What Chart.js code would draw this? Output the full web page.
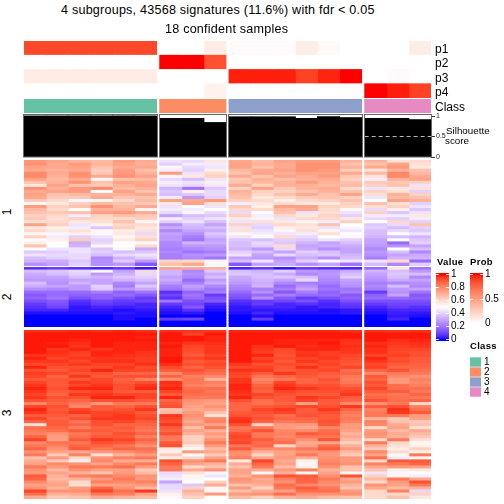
<!DOCTYPE html>
<html>
<head>
<meta charset="utf-8">
<title>Consensus heatmap</title>
<script src="https://cdn.jsdelivr.net/npm/chart.js@4"></script>
<style>
  html, body { margin: 0; padding: 0; background: #fff; }
  body { position: relative; width: 504px; height: 504px; overflow: hidden; font-family: "Liberation Sans", sans-serif; color: #000; }
  canvas { position: absolute; }
  .label { position: absolute; white-space: nowrap; line-height: 1; }
</style>
</head>
<body>
<script>
const SAMPLE_GROUPS = [0, 0, 0, 0, 0, 0, 1, 1, 1, 2, 2, 2, 2, 2, 2, 3, 3, 3];
const CLASS_COLORS = ['#66C2A5', '#FC8D62', '#8DA0CB', '#E78AC3'];
const CLASS_LABELS = ['1', '2', '3', '4'];

const PROB_NAMES = ['p1', 'p2', 'p3', 'p4'];
const PROB_P1 = [0.87, 0.87, 0.87, 0.87, 0.87, 0.87, 0, 0, 0.1, 0.02, 0.02, 0.02, 0.09, 0.03, 0, 0, 0, 0.1];
const PROB_P2 = [0, 0, 0, 0, 0, 0, 1, 1, 0.84, 0, 0, 0, 0, 0, 0, 0, 0, 0];
const PROB_P3 = [0.1, 0.1, 0.1, 0.1, 0.1, 0.1, 0, 0, 0, 0.97, 0.97, 0.97, 0.89, 0.96, 1, 0, 0.02, 0];
const PROB_P4 = [0, 0, 0, 0, 0, 0, 0, 0, 0.07, 0, 0, 0, 0, 0, 0, 1, 0.97, 0.89];

const SILHOUETTE = [1, 1, 1, 1, 1, 1, 0.94, 0.94, 0.84, 0.98, 0.98, 0.98, 0.94, 0.98, 0.96, 0.94, 0.94, 0.91];
const SILHOUETTE_TICKS = [0, 0.5, 1];
const VALUE_TICKS = [0, 0.2, 0.4, 0.6, 0.8, 1];
const PROB_TICKS = [0, 0.5, 1];

// expression per signature row, percent of the value scale, one column per sample
const CLUSTER_1_ROWS = [
  [77,74,70,68,76,72,44,42,57,73,68,74,76,76,70,70,58,60],
  [78,72,76,70,74,70,40,46,46,74,70,72,78,78,66,66,74,58],
  [74,73,74,66,72,73,52,42,44,74,66,72,78,78,70,72,76,56],
  [72,70,72,63,75,66,46,40,54,68,72,74,78,76,63,57,70,66],
  [80,72,78,64,76,70,76,44,60,66,74,70,74,74,72,68,80,68],
  [80,70,78,72,78,74,48,56,62,72,66,74,72,76,65,58,80,72],
  [74,68,72,52,66,68,42,36,44,64,70,66,70,72,62,46,70,74],
  [66,70,78,66,74,72,46,44,54,66,68,70,76,70,66,64,64,62],
  [56,74,66,64,70,74,44,42,45,72,62,70,70,68,68,62,66,44],
  [78,70,76,80,68,70,34,20,38,62,74,64,70,72,60,44,56,58],
  [72,74,76,50,74,66,38,54,42,70,62,62,66,70,66,62,58,40],
  [74,66,68,70,70,72,36,38,42,68,60,66,72,66,74,58,70,62],
  [72,64,64,72,66,66,46,28,40,66,56,60,64,66,62,44,68,66],
  [64,60,48,52,60,68,74,72,76,62,60,54,60,62,66,50,74,70],
  [52,56,62,68,66,64,56,74,58,46,56,60,56,56,62,66,58,40],
  [76,62,66,78,68,72,44,50,44,64,54,74,74,62,60,58,62,44],
  [68,60,50,70,70,52,46,46,50,60,60,68,72,60,52,42,54,38],
  [66,64,66,74,76,72,42,48,42,42,50,66,44,58,44,62,38,44],
  [62,60,46,62,66,64,30,36,38,62,46,60,56,62,40,46,46,56],
  [64,58,62,60,60,62,46,40,44,56,48,44,60,60,56,42,40,46],
  [58,60,56,58,66,52,40,44,36,44,58,56,52,46,62,50,60,40],
  [74,62,44,54,60,60,26,36,30,62,42,60,58,66,50,38,42,66],
  [56,54,46,38,62,56,32,34,36,44,40,54,56,44,48,40,36,40],
  [60,56,58,52,55,58,24,30,32,58,44,48,58,52,44,36,42,38],
  [52,48,54,48,56,42,30,26,38,52,46,44,46,58,50,36,50,44],
  [62,46,40,44,52,58,28,22,34,44,50,60,42,50,52,34,36,34],
  [50,54,64,40,56,62,28,20,30,38,36,40,38,44,40,30,50,38],
  [54,50,32,42,50,50,24,34,32,36,42,38,34,30,36,30,18,40],
  [66,50,34,52,50,60,24,28,28,36,40,60,30,32,32,28,26,30],
  [50,44,44,38,48,32,22,24,26,34,28,42,32,26,30,24,50,36],
  [38,40,44,40,36,38,24,20,22,40,36,30,40,36,30,28,36,24],
  [44,42,42,36,42,44,22,26,28,44,30,42,36,38,34,26,30,32],
  [36,40,42,24,34,40,22,24,20,30,28,26,32,26,36,22,34,34],
  [34,32,38,26,38,28,62,60,52,36,44,30,40,52,44,44,60,18],
  [26,30,40,26,28,14,66,72,48,14,30,32,26,30,20,36,24,40]
];

const CLUSTER_2_ROWS = [
  [6,8,6,4,8,2,74,72,70,4,8,2,8,6,4,18,56,20],
  [36,38,42,48,30,60,34,24,38,36,34,40,28,26,32,34,36,28],
  [32,36,40,28,34,42,34,26,32,38,36,32,24,28,36,30,38,36],
  [30,30,36,34,38,40,30,24,36,32,36,38,36,26,40,28,36,24],
  [28,28,30,30,34,36,32,18,28,30,34,30,42,24,30,26,32,30],
  [36,26,34,30,24,30,28,22,32,28,32,24,22,22,28,22,24,26],
  [32,30,28,40,22,38,22,30,24,24,34,18,26,18,26,24,36,24],
  [26,24,28,38,28,32,20,26,20,22,22,22,30,20,20,22,28,30],
  [18,18,18,22,16,20,6,16,22,18,26,14,22,16,22,8,26,20],
  [14,18,16,16,18,14,10,20,8,14,18,22,18,18,14,16,30,14],
  [16,20,12,16,12,8,6,18,12,12,26,14,8,12,16,18,18,16],
  [12,14,6,10,8,10,20,12,14,6,8,10,12,6,12,12,12,12],
  [8,12,4,8,6,4,8,10,4,4,8,4,6,4,8,8,10,10],
  [6,10,2,4,3,4,4,14,2,2,4,4,2,4,6,4,8,6],
  [4,4,2,2,1,2,2,6,1,2,2,2,2,1,2,2,4,4],
  [1,1,1,1,2,1,1,2,0,1,4,1,1,1,2,1,3,2],
  [0,0,0,0,1,1,0,0,0,0,1,0,0,0,0,0,2,1],
  [0,0,0,0,1,0,8,10,0,0,8,0,0,0,0,0,4,0],
  [0,0,0,0,0,0,0,0,0,0,0,0,0,0,0,0,0,0],
  [0,0,0,0,0,0,0,0,0,0,0,0,0,0,0,0,0,0]
];

const CLUSTER_3_ROWS = [
  [97,97,98,97,98,97,97,96,96,98,98,98,98,98,97,97,96,97],
  [99,99,99,99,99,99,99,94,99,99,99,99,99,99,99,99,99,99],
  [99,99,99,99,99,98,99,99,98,99,99,99,99,99,99,99,99,99],
  [99,99,98,99,99,99,99,99,98,99,99,98,98,98,97,99,97,98],
  [99,98,97,99,98,98,98,96,97,99,99,98,98,99,96,97,96,97],
  [99,99,96,99,98,98,99,94,96,99,97,99,97,98,97,98,95,96],
  [99,96,98,96,98,98,98,93,96,99,96,93,98,98,96,97,94,94],
  [99,97,95,98,98,96,98,92,96,99,95,93,96,95,96,97,93,92],
  [96,96,94,98,97,96,98,90,94,99,98,91,97,95,94,94,95,92],
  [98,94,96,96,96,95,99,94,96,99,94,93,94,96,93,98,92,90],
  [96,96,93,97,97,95,99,90,92,99,96,90,96,93,92,96,93,90],
  [93,94,96,94,94,97,97,92,94,96,92,93,92,95,90,93,90,89],
  [98,92,92,93,96,92,93,88,92,93,94,91,97,92,94,95,88,88],
  [92,90,94,98,94,94,90,92,88,97,96,90,92,94,86,88,92,86],
  [95,94,91,92,88,88,80,88,86,94,90,96,92,90,88,80,84,84],
  [94,88,96,90,92,92,88,82,80,93,85,88,90,88,84,90,80,78],
  [90,91,90,94,88,82,78,84,70,96,80,84,88,92,82,88,76,82],
  [94,90,96,94,90,92,97,84,82,96,84,94,88,90,84,92,76,80],
  [96,90,94,96,92,96,96,82,80,98,88,96,92,92,88,90,86,82],
  [98,92,98,98,92,98,98,86,86,98,90,98,96,94,92,94,86,86],
  [96,90,92,94,90,90,94,88,84,97,88,94,92,92,94,90,90,84],
  [94,88,96,96,94,94,90,86,86,96,94,92,90,90,96,86,84,88],
  [96,92,92,98,98,94,98,84,84,98,92,90,96,94,90,88,86,84],
  [92,90,88,92,92,90,88,78,76,92,86,90,94,90,88,92,86,88],
  [80,88,84,76,84,84,90,76,74,88,86,88,74,90,80,78,84,60],
  [94,92,80,90,88,92,92,74,78,88,90,92,94,92,96,90,92,82],
  [98,90,94,90,92,96,66,72,74,88,94,96,90,96,88,82,97,86],
  [96,92,96,94,94,90,68,76,66,90,92,94,90,92,84,84,96,90],
  [90,90,88,94,96,92,96,78,58,92,90,86,92,90,82,84,84,76],
  [94,88,92,96,96,94,94,76,80,96,92,88,88,90,84,70,64,74],
  [88,90,84,92,94,90,92,72,82,97,88,84,86,92,82,82,66,64],
  [58,90,88,92,88,88,96,76,74,92,62,76,76,90,76,80,72,66],
  [86,88,82,88,90,86,90,66,84,84,84,76,72,80,76,60,74,58],
  [84,86,90,90,88,84,88,74,70,86,92,80,80,86,74,76,68,72],
  [82,78,84,88,92,88,92,70,76,92,84,82,90,88,70,78,72,68],
  [88,76,86,90,90,82,84,62,72,94,84,80,84,84,72,76,70,64],
  [94,74,90,96,94,88,84,62,78,92,90,84,78,92,68,60,84,58],
  [80,86,84,92,90,84,90,64,84,94,86,86,72,72,62,84,60,52],
  [84,82,88,88,84,78,92,56,76,84,88,60,74,86,70,70,58,54],
  [88,78,90,84,88,86,56,52,68,90,80,80,84,90,76,64,54,62],
  [78,74,72,76,78,82,54,76,72,80,70,74,78,78,68,80,60,54],
  [84,64,82,58,70,76,64,52,64,78,62,74,84,76,64,74,52,84],
  [66,76,60,78,82,84,54,60,74,82,72,76,70,78,76,86,46,52],
  [72,64,54,80,72,70,92,78,84,56,94,72,54,80,76,60,90,90],
  [74,80,78,74,80,84,88,74,70,72,88,74,52,82,78,82,84,88],
  [84,76,84,84,86,76,84,60,66,66,84,68,54,78,66,72,76,74],
  [78,68,78,74,74,64,84,72,78,74,72,76,82,70,66,66,54,56],
  [76,74,70,66,76,68,42,58,48,74,52,70,52,74,52,44,48,50],
  [90,70,82,84,80,78,44,52,44,70,78,92,90,78,92,62,52,46],
  [88,68,70,76,84,76,46,52,50,78,72,82,88,84,72,68,84,72],
  [80,72,60,82,80,82,30,50,62,76,74,78,88,80,76,60,76,92],
  [74,74,58,74,74,76,42,38,72,66,70,86,80,78,70,78,74,84],
  [78,70,76,88,78,68,42,62,52,76,62,84,90,84,66,72,68,70],
  [94,78,78,94,86,96,44,70,52,66,72,74,86,86,76,60,82,42],
  [86,70,72,84,82,74,54,66,76,76,78,86,78,78,78,60,60,62],
  [72,64,66,72,70,68,52,62,50,68,62,70,72,68,66,60,66,56]
];

const HEAT_LEFT = 24;
const HEAT_WIDTH = 407;
const GROUP_GAP = 0.136; // gap between sample groups, in sample widths
const X_MAX = SAMPLE_GROUPS.length + GROUP_GAP * 3;

Chart.defaults.animation = false;
Chart.defaults.responsive = false;
Chart.defaults.font.family = '"Liberation Sans", sans-serif';
Chart.defaults.plugins.legend.display = false;
Chart.defaults.plugins.tooltip.enabled = false;

// CIELAB ramps, same look as the colour mapping in the source figure
function labToRgb(L, a, b) {
  const finv = (t) => (t > 6 / 29 ? t * t * t : 3 * (6 / 29) * (6 / 29) * (t - 4 / 29));
  const fy = (L + 16) / 116;
  const X = 0.95047 * finv(fy + a / 500);
  const Y = finv(fy);
  const Z = 1.08883 * finv(fy - b / 200);
  const lin = [
    3.2406 * X - 1.5372 * Y - 0.4986 * Z,
    -0.9689 * X + 1.8758 * Y + 0.0415 * Z,
    0.0557 * X - 0.204 * Y + 1.057 * Z
  ];
  const out = lin.map((c) => {
    const v = Math.min(1, Math.max(0, c));
    return Math.round(255 * (v <= 0.0031308 ? 12.92 * v : 1.055 * Math.pow(v, 1 / 2.4) - 0.055));
  });
  return `rgb(${out[0]},${out[1]},${out[2]})`;
}

const LAB_RED = [53.24, 80.09, 67.2];
const LAB_BLUE = [32.3, 79.19, -107.86];
const LAB_WHITE = [100, 0, 0];

function mixLab(from, to, t) {
  return labToRgb(from[0] + (to[0] - from[0]) * t, from[1] + (to[1] - from[1]) * t, from[2] + (to[2] - from[2]) * t);
}

function valueColor(v) {
  const c = Math.min(1, Math.max(0, v));
  return c < 0.5 ? mixLab(LAB_BLUE, LAB_WHITE, c * 2) : mixLab(LAB_WHITE, LAB_RED, (c - 0.5) * 2);
}

function probColor(v) {
  return mixLab(LAB_WHITE, LAB_RED, Math.min(1, Math.max(0, v)));
}

function sampleX(i) {
  return i + 0.5 + SAMPLE_GROUPS[i] * GROUP_GAP;
}

function groupStart(g) {
  return SAMPLE_GROUPS.indexOf(g) + g * GROUP_GAP;
}

function groupEnd(g) {
  return SAMPLE_GROUPS.lastIndexOf(g) + 1 + g * GROUP_GAP;
}

function addCanvas(left, top, width, height) {
  const canvas = document.createElement('canvas');
  canvas.width = width;
  canvas.height = height;
  canvas.style.left = left + 'px';
  canvas.style.top = top + 'px';
  canvas.style.width = width + 'px';
  canvas.style.height = height + 'px';
  document.body.appendChild(canvas);
  return canvas;
}

function addLabel(text, x, y, size, extra) {
  const el = document.createElement('div');
  el.className = 'label';
  el.textContent = text;
  el.style.left = x + 'px';
  el.style.top = y + 'px';
  el.style.fontSize = size + 'px';
  Object.assign(el.style, extra || {});
  document.body.appendChild(el);
  return el;
}

const hiddenX = { type: 'linear', display: false, offset: false, min: 0, max: X_MAX, grid: { display: false } };

// one chart per horizontal block of rows, all sharing the sample x scale
function rowBlockChart(top, height, rowCount, colorAt) {
  const datasets = SAMPLE_GROUPS.map((_, s) => {
    const rows = Array.from({ length: rowCount }, (_, r) => r);
    return {
      data: rows.map((r) => ({ x: sampleX(s), y: [r, r + 1] })),
      backgroundColor: rows.map((r) => colorAt(r, s)),
      borderWidth: 0,
      barPercentage: 1,
      categoryPercentage: 1,
      inflateAmount: 0.4,
      grouped: false
    };
  });
  return new Chart(addCanvas(HEAT_LEFT, top, HEAT_WIDTH, height), {
    type: 'bar',
    data: { datasets },
    options: {
      layout: { padding: 0 },
      scales: {
        x: hiddenX,
        y: { type: 'linear', display: false, reverse: true, min: 0, max: rowCount, grid: { display: false } }
      }
    }
  });
}

const PROB_ROWS = [PROB_P1, PROB_P2, PROB_P3, PROB_P4];
rowBlockChart(41, 57, PROB_ROWS.length, (r, s) => probColor(PROB_ROWS[r][s]));
rowBlockChart(99, 14, 1, (r, s) => CLASS_COLORS[SAMPLE_GROUPS[s]]);
rowBlockChart(160, 106, CLUSTER_1_ROWS.length, (r, s) => valueColor(CLUSTER_1_ROWS[r][s] / 100));
rowBlockChart(267, 60, CLUSTER_2_ROWS.length, (r, s) => valueColor(CLUSTER_2_ROWS[r][s] / 100));
rowBlockChart(330, 169, CLUSTER_3_ROWS.length, (r, s) => valueColor(CLUSTER_3_ROWS[r][s] / 100));

// silhouette bars with a grey frame round each sample group
const groupBoxes = {
  id: 'groupBoxes',
  afterDatasetsDraw(chart) {
    const { ctx, chartArea, scales } = chart;
    ctx.save();
    ctx.strokeStyle = '#666';
    ctx.lineWidth = 1;
    CLASS_LABELS.forEach((_, g) => {
      const x0 = Math.round(scales.x.getPixelForValue(groupStart(g))) - 0.5;
      const x1 = Math.round(scales.x.getPixelForValue(groupEnd(g))) + 0.5;
      ctx.strokeRect(x0, chartArea.top + 0.5, x1 - x0, chartArea.bottom - chartArea.top - 0.5);
    });
    ctx.restore();
  }
};

new Chart(addCanvas(20, 108, 432, 55), {
  type: 'bar',
  data: {
    datasets: [
      {
        type: 'line',
        order: 0,
        data: [{ x: groupStart(3), y: 0.5 }, { x: groupEnd(3), y: 0.5 }],
        borderColor: '#bbb',
        borderWidth: 1,
        borderDash: [4, 3],
        pointRadius: 0
      },
      {
        type: 'bar',
        order: 1,
        data: SILHOUETTE.map((v, s) => ({ x: sampleX(s), y: v })),
        backgroundColor: '#000',
        borderWidth: 0,
        barPercentage: 1,
        categoryPercentage: 1,
        inflateAmount: 0.5
      }
    ]
  },
  options: {
    layout: { padding: { left: 4, right: 0, top: 6, bottom: 6 } },
    scales: {
      x: hiddenX,
      y: {
        type: 'linear',
        position: 'right',
        min: 0,
        max: 1.05,
        afterBuildTicks: (scale) => { scale.ticks = SILHOUETTE_TICKS.map((value) => ({ value })); },
        afterFit: (scale) => { scale.width = 21; },
        border: { display: false },
        grid: { drawOnChartArea: false, tickLength: 4, color: '#333' },
        ticks: { color: '#222', font: { size: 7 }, padding: 1, autoSkip: false, callback: (v) => String(v) }
      }
    }
  },
  plugins: [groupBoxes]
});

// vertical colour bar with white tick marks at both edges
function colorBar(left, top, height, barWidth, yMin, yMax, ticks, colorFn) {
  const canvasWidth = barWidth + 24;
  new Chart(addCanvas(left, top - 6, canvasWidth, height + 12), {
    type: 'bar',
    data: {
      datasets: [{
        data: [{ x: 0.5, y: [yMin, yMax] }],
        backgroundColor: (c) => {
          const area = c.chart.chartArea;
          if (!area) return '#fff';
          const grad = c.chart.ctx.createLinearGradient(0, area.bottom, 0, area.top);
          for (let i = 0; i <= 40; i++) {
            grad.addColorStop(i / 40, colorFn(yMin + (yMax - yMin) * i / 40));
          }
          return grad;
        },
        borderWidth: 0,
        barThickness: barWidth
      }]
    },
    options: {
      layout: { padding: { top: 6, bottom: 6 } },
      scales: {
        x: { type: 'linear', display: false, offset: false, min: 0, max: 1, grid: { display: false } },
        y: {
          type: 'linear',
          position: 'right',
          min: yMin,
          max: yMax,
          afterBuildTicks: (scale) => { scale.ticks = ticks.map((value) => ({ value })); },
          afterFit: (scale) => { scale.width = canvasWidth - barWidth; },
          border: { display: false, dash: [3, barWidth - 6, 3] },
          grid: { color: 'rgba(255,255,255,0.85)', z: 1, drawTicks: false },
          ticks: { color: '#000', font: { size: 10 }, padding: 2, autoSkip: false, callback: (v) => String(v) }
        }
      }
    }
  });
}

colorBar(436, 271, 72, 13, -0.026, 1.026, VALUE_TICKS, valueColor);
colorBar(470, 271, 56, 13, -0.03, 1.03, PROB_TICKS, probColor);

new Chart(addCanvas(470, 348, 30, 58), {
  type: 'bar',
  data: {
    labels: CLASS_LABELS,
    datasets: [{
      data: CLASS_LABELS.map(() => 1),
      backgroundColor: CLASS_COLORS,
      borderWidth: 0,
      barPercentage: 0.94,
      categoryPercentage: 1
    }]
  },
  options: {
    indexAxis: 'y',
    layout: { padding: { top: 6, bottom: 6 } },
    scales: {
      x: { type: 'linear', display: false, min: 0, max: 1, grid: { display: false } },
      y: {
        type: 'category',
        position: 'right',
        afterFit: (scale) => { scale.width = 19; },
        border: { display: false },
        grid: { display: false, drawTicks: false },
        ticks: { color: '#000', font: { size: 10 }, padding: 3, autoSkip: false }
      }
    }
  }
});

addLabel('4 subgroups, 43568 signatures (11.6%) with fdr < 0.05', 61, 4, 12.6, { letterSpacing: '0.21px' });
addLabel('18 confident samples', 165, 23, 12.6, { letterSpacing: '0.21px' });

PROB_NAMES.forEach((name, i) => addLabel(name, 435, 43 + i * 14.3, 12));
addLabel('Class', 435, 101, 12);
addLabel('Silhouette', 446, 126, 9.8);
addLabel('score', 445, 136, 9.8);

addLabel('Value', 437, 257, 9.5, { fontWeight: 'bold', letterSpacing: '0.3px' });
addLabel('Prob', 470, 257, 9.5, { fontWeight: 'bold', letterSpacing: '0.3px' });
addLabel('Class', 470, 341, 9.5, { fontWeight: 'bold', letterSpacing: '0.3px' });

[['1', 212], ['2', 297], ['3', 413]].forEach(([text, y]) => {
  addLabel(text, 4, y - 6, 12, { transform: 'rotate(-90deg)' });
});
</script>
</body>
</html>
